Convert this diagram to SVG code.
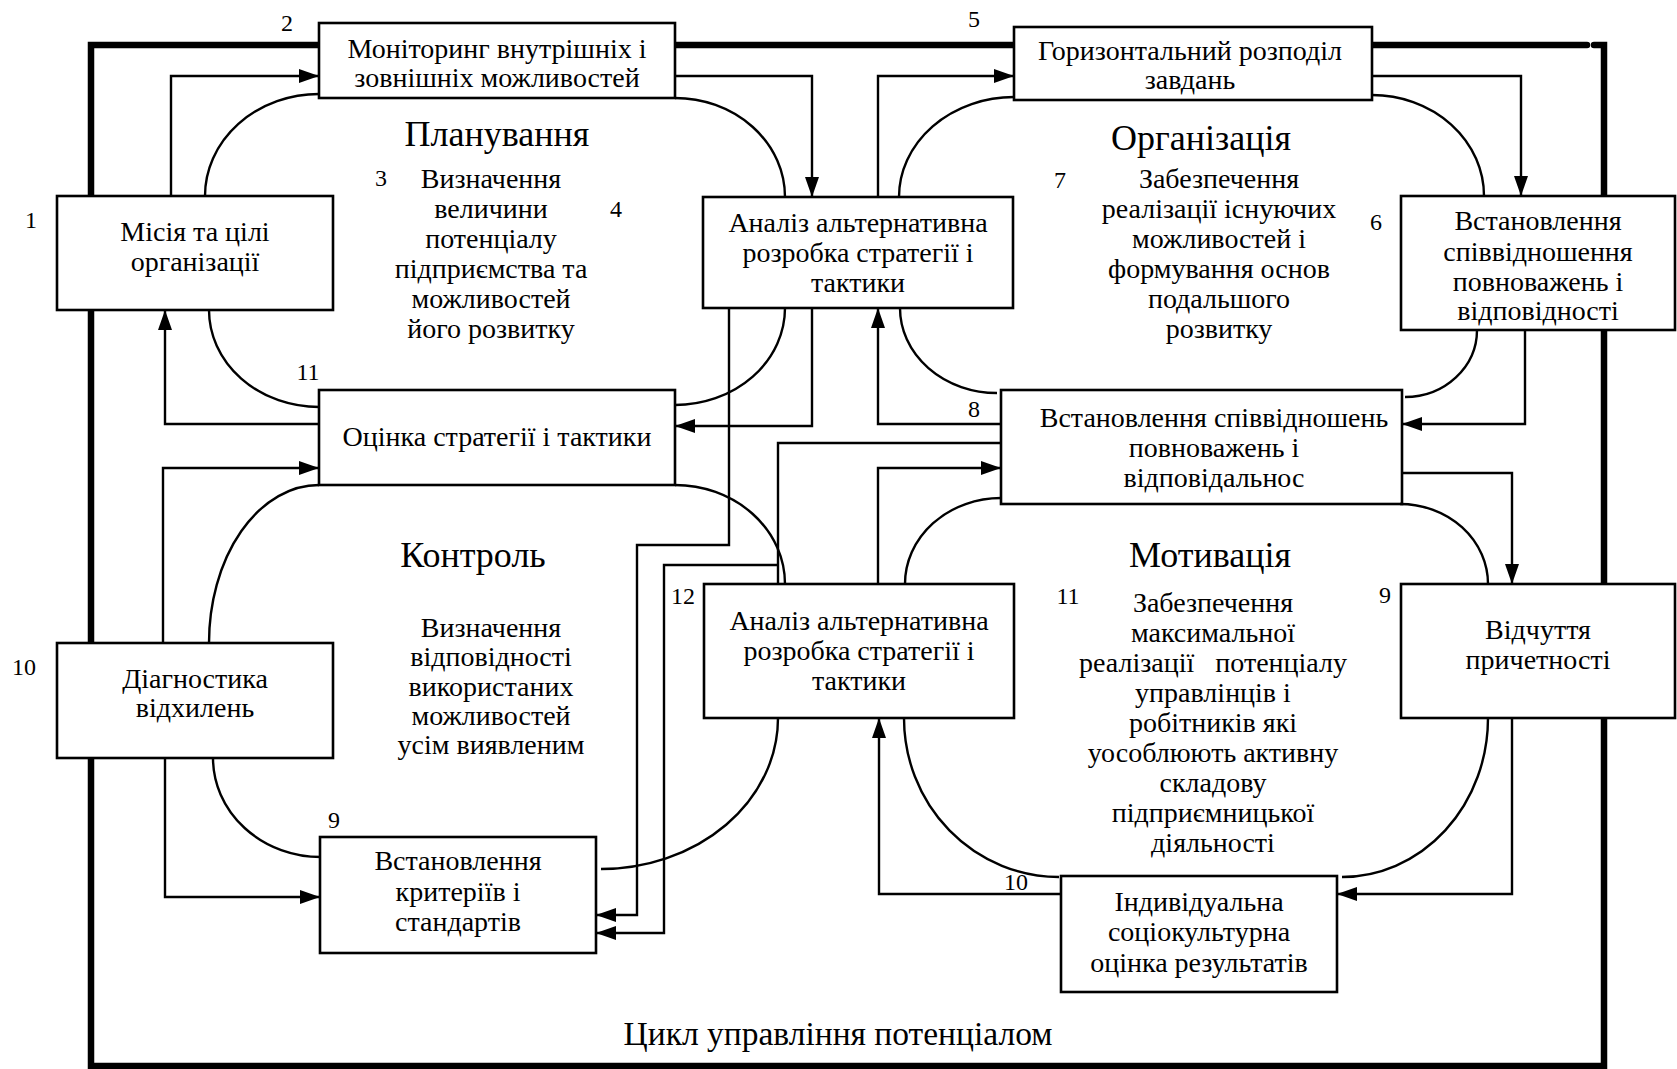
<svg xmlns="http://www.w3.org/2000/svg" width="1677" height="1069" viewBox="0 0 1677 1069">
<style>
text{font-family:"Liberation Serif","Times New Roman",serif;fill:#000;text-anchor:middle}
.t{font-size:28px}
.n{font-size:24px}
.h{font-size:36px}
.ti{font-size:33.5px}
.box{fill:#fff;stroke:#000;stroke-width:2.6}
.c{fill:none;stroke:#000;stroke-width:2.4}
.a{fill:none;stroke:#000;stroke-width:2.4}
.fr{fill:none;stroke:#000;stroke-width:6.5;stroke-linecap:round}
</style>
<defs>
<marker id="ah" viewBox="0 0 20 14" refX="20" refY="7" markerWidth="20" markerHeight="14" markerUnits="userSpaceOnUse" orient="auto">
<path d="M0,0 L20,7 L0,14 z" fill="#000"/>
</marker>
</defs>
<rect width="1677" height="1069" fill="#fff"/>
<g id="frame">
<path class="fr" d="M319,45 H91 V1066 H1604 V45 H1594"/>
<path class="fr" d="M675,45 H1014"/>
<path class="fr" d="M1372,45 H1587"/>
</g>
<g id="n1"><rect class="box" x="57" y="196" width="276" height="114"/>
<text class="t" x="195" y="241">Місія та цілі</text><text class="t" x="195" y="271">організації</text></g>
<g id="n2"><rect class="box" x="319" y="23" width="356" height="75"/>
<text class="t" x="497" y="58">Моніторинг внутрішніх і</text><text class="t" x="497" y="87">зовнішніх можливостей</text></g>
<g id="n3"><rect class="box" x="703" y="197" width="310" height="111"/>
<text class="t" x="858" y="232">Аналіз альтернативна</text><text class="t" x="858" y="262">розробка стратегії і</text><text class="t" x="858" y="292">тактики</text></g>
<g id="n4"><rect class="box" x="319" y="390" width="356" height="95"/>
<text class="t" x="497" y="446">Оцінка стратегії і тактики</text></g>
<g id="n5"><rect class="box" x="1014" y="27" width="358" height="73"/>
<text class="t" x="1190" y="60">Горизонтальний розподіл</text><text class="t" x="1190" y="89">завдань</text></g>
<g id="n6"><rect class="box" x="1401" y="196" width="274" height="134"/>
<text class="t" x="1538" y="230">Встановлення</text><text class="t" x="1538" y="261">співвідношення</text><text class="t" x="1538" y="291">повноважень і</text><text class="t" x="1538" y="320">відповідності</text></g>
<g id="n7"><rect class="box" x="1001" y="390" width="401" height="114"/>
<text class="t" x="1214" y="427">Встановлення співвідношень</text><text class="t" x="1214" y="457">повноважень і</text><text class="t" x="1214" y="487">відповідальнос</text></g>
<g id="n8"><rect class="box" x="57" y="643" width="276" height="115"/>
<text class="t" x="195" y="688">Діагностика</text><text class="t" x="195" y="717">відхилень</text></g>
<g id="n9"><rect class="box" x="704" y="584" width="310" height="134"/>
<text class="t" x="859" y="630">Аналіз альтернативна</text><text class="t" x="859" y="660">розробка стратегії і</text><text class="t" x="859" y="690">тактики</text></g>
<g id="n10"><rect class="box" x="1401" y="584" width="274" height="134"/>
<text class="t" x="1538" y="639">Відчуття</text><text class="t" x="1538" y="669">причетності</text></g>
<g id="n11"><rect class="box" x="320" y="837" width="276" height="116"/>
<text class="t" x="458" y="870">Встановлення</text><text class="t" x="458" y="901">критеріїв і</text><text class="t" x="458" y="931">стандартів</text></g>
<g id="n12"><rect class="box" x="1061" y="876" width="276" height="116"/>
<text class="t" x="1199" y="911">Індивідуальна</text><text class="t" x="1199" y="941">соціокультурна</text><text class="t" x="1199" y="972">оцінка результатів</text></g>
<g id="arcs">
<path class="a" d="M205,196 A114,102 0 0 1 319,94"/>
<path class="a" d="M675,98 A110,99 0 0 1 785,197"/>
<path class="a" d="M785,308 A110,97 0 0 1 675,405"/>
<path class="a" d="M319,407 A110,97 0 0 1 209,310"/>
<path class="a" d="M899,197 A115,100 0 0 1 1014,97"/>
<path class="a" d="M1372,95 A112,101 0 0 1 1484,196"/>
<path class="a" d="M1477,330 A72,67 0 0 1 1405,397"/>
<path class="a" d="M997,393 A97,85 0 0 1 900,308"/>
<path class="a" d="M209,643 A110,158 0 0 1 319,485"/>
<path class="a" d="M675,485 A110,99 0 0 1 785,584"/>
<path class="a" d="M778,718 A177,151 0 0 1 601,869"/>
<path class="a" d="M321,857 A108,99 0 0 1 213,758"/>
<path class="a" d="M905,584 A96,86 0 0 1 1001,498"/>
<path class="a" d="M1400,504 A88,80 0 0 1 1488,584"/>
<path class="a" d="M1488,718 A146,159 0 0 1 1342,877"/>
<path class="a" d="M1059,877 A155,159 0 0 1 904,718"/>
</g>
<g id="connectors">
<path class="c" d="M171,196 V76 H319" marker-end="url(#ah)"/>
<path class="c" d="M675,76 H812 V197" marker-end="url(#ah)"/>
<path class="c" d="M812,308 V426 H675" marker-end="url(#ah)"/>
<path class="c" d="M729,308 V545 H637 V915 H596" marker-end="url(#ah)"/>
<path class="c" d="M1001,443 H778 V584"/>
<path class="c" d="M778,565 H664 V933 H596" marker-end="url(#ah)"/>
<path class="c" d="M319,424 H165 V310" marker-end="url(#ah)"/>
<path class="c" d="M163,643 V468 H319" marker-end="url(#ah)"/>
<path class="c" d="M165,758 V897 H320" marker-end="url(#ah)"/>
<path class="c" d="M878,197 V76 H1014" marker-end="url(#ah)"/>
<path class="c" d="M1372,76 H1521 V196" marker-end="url(#ah)"/>
<path class="c" d="M1525,330 V424 H1402" marker-end="url(#ah)"/>
<path class="c" d="M1001,424 H878 V308" marker-end="url(#ah)"/>
<path class="c" d="M878,584 V468 H1001" marker-end="url(#ah)"/>
<path class="c" d="M1402,473 H1512 V584" marker-end="url(#ah)"/>
<path class="c" d="M1512,718 V894 H1337" marker-end="url(#ah)"/>
<path class="c" d="M1061,894 H879 V718" marker-end="url(#ah)"/>
</g>
<g id="labels">
<text class="h" x="497" y="146">Планування</text>
<text class="h" x="1201" y="150">Організація</text>
<text class="h" x="473" y="567">Контроль</text>
<text class="h" x="1210" y="567">Мотивація</text>
<text class="t" x="491" y="188">Визначення</text>
<text class="t" x="491" y="218">величини</text>
<text class="t" x="491" y="248">потенціалу</text>
<text class="t" x="491" y="278">підприємства та</text>
<text class="t" x="491" y="308">можливостей</text>
<text class="t" x="491" y="338">його розвитку</text>
<text class="t" x="1219" y="188">Забезпечення</text>
<text class="t" x="1219" y="218">реалізації існуючих</text>
<text class="t" x="1219" y="248">можливостей і</text>
<text class="t" x="1219" y="278">формування основ</text>
<text class="t" x="1219" y="308">подальшого</text>
<text class="t" x="1219" y="338">розвитку</text>
<text class="t" x="491" y="637">Визначення</text>
<text class="t" x="491" y="666">відповідності</text>
<text class="t" x="491" y="696">використаних</text>
<text class="t" x="491" y="725">можливостей</text>
<text class="t" x="491" y="754">усім виявленим</text>
<text class="t" x="1213" y="612">Забезпечення</text>
<text class="t" x="1213" y="642">максимальної</text>
<text class="t" x="1213" y="672" xml:space="preserve">реалізації   потенціалу</text>
<text class="t" x="1213" y="702">управлінців і</text>
<text class="t" x="1213" y="732">робітників які</text>
<text class="t" x="1213" y="762">уособлюють активну</text>
<text class="t" x="1213" y="792">складову</text>
<text class="t" x="1213" y="822">підприємницької</text>
<text class="t" x="1213" y="852">діяльності</text>
<text class="n" x="31" y="228">1</text>
<text class="n" x="287" y="31">2</text>
<text class="n" x="381" y="186">3</text>
<text class="n" x="616" y="217">4</text>
<text class="n" x="308" y="380">11</text>
<text class="n" x="974" y="27">5</text>
<text class="n" x="1060" y="188">7</text>
<text class="n" x="1376" y="230">6</text>
<text class="n" x="974" y="417">8</text>
<text class="n" x="24" y="675">10</text>
<text class="n" x="683" y="604">12</text>
<text class="n" x="1068" y="604">11</text>
<text class="n" x="1385" y="603">9</text>
<text class="n" x="334" y="828">9</text>
<text class="n" x="1016" y="890">10</text>
<text class="ti" x="838" y="1045">Цикл управління потенціалом</text>
</g>
</svg>
